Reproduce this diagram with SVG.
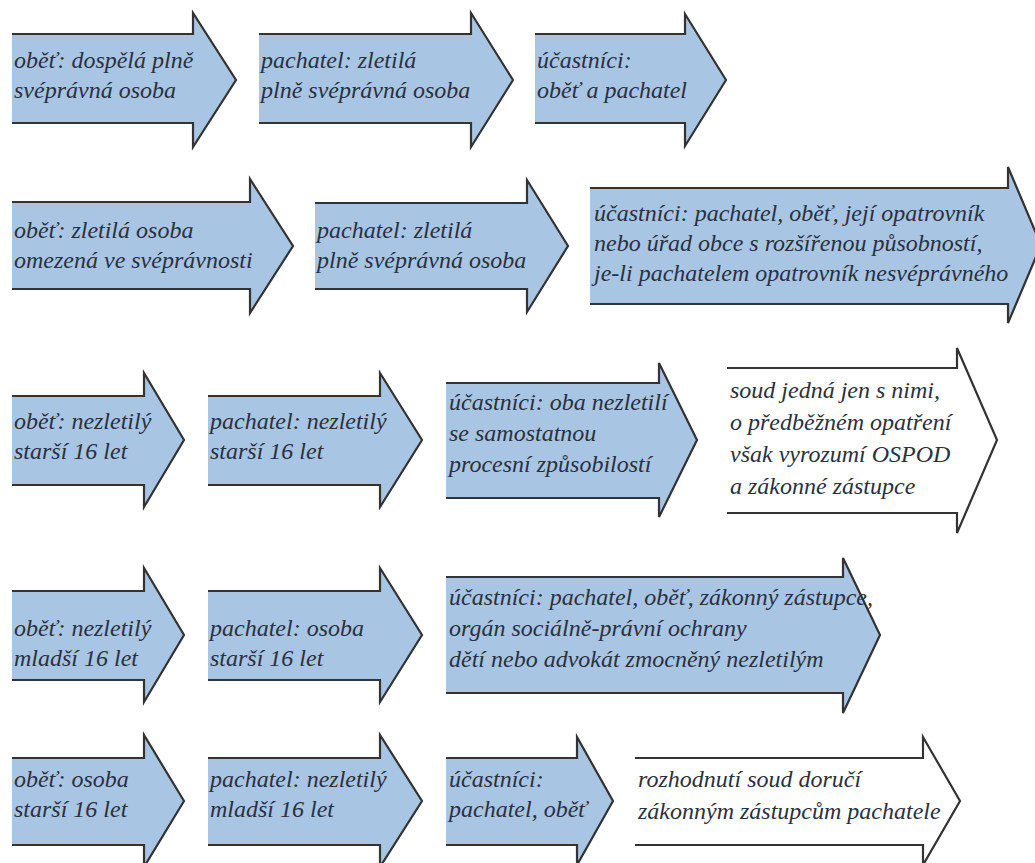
<svg xmlns="http://www.w3.org/2000/svg" width="1035" height="863" viewBox="0 0 1035 863">
<style>
.blue{fill:#a8c5e3;}
.white{fill:#ffffff;}
.edge{fill:none;stroke:#333333;stroke-width:2.2;stroke-linejoin:miter;}
text{font-family:"Liberation Serif","Times New Roman",serif;font-style:italic;font-size:24px;fill:#2a3040;}
</style>
<rect width="1035" height="863" fill="#ffffff"/>
<g id="r1a1"><polygon class="blue" points="12,34 193,34 193,13 236,80 193,147 193,123 12,123"/><polyline class="edge" points="12,34 193,34 193,13 236,80 193,147 193,123 12,123"/><text x="14" y="68">oběť: dospělá plně</text><text x="14" y="98">svéprávná osoba</text></g>
<g id="r1a2"><polygon class="blue" points="259,34 471,34 471,13 513,80 471,147 471,123 259,123"/><polyline class="edge" points="259,34 471,34 471,13 513,80 471,147 471,123 259,123"/><text x="261" y="68">pachatel: zletilá</text><text x="261" y="98">plně svéprávná osoba</text></g>
<g id="r1a3"><polygon class="blue" points="535,34 685,34 685,14 726,80 685,146 685,123 535,123"/><polyline class="edge" points="535,34 685,34 685,14 726,80 685,146 685,123 535,123"/><text x="537" y="68">účastníci:</text><text x="537" y="98">oběť a pachatel</text></g>
<g id="r2a1"><polygon class="blue" points="12,202 250,202 250,179 293,246 250,313 250,289 12,289"/><polyline class="edge" points="12,202 250,202 250,179 293,246 250,313 250,289 12,289"/><text x="14" y="238">oběť: zletilá osoba</text><text x="14" y="268">omezená ve svéprávnosti</text></g>
<g id="r2a2"><polygon class="blue" points="315,203 527,203 527,180 568,246 527,312 527,289 315,289"/><polyline class="edge" points="315,203 527,203 527,180 568,246 527,312 527,289 315,289"/><text x="317" y="238">pachatel: zletilá</text><text x="317" y="268">plně svéprávná osoba</text></g>
<g id="r2a3"><polygon class="blue" points="590,188 1008,188 1008,167 1041,245 1008,323 1008,304 590,304"/><polyline class="edge" points="590,188 1008,188 1008,167 1041,245 1008,323 1008,304 590,304"/><text x="594" y="221">účastníci: pachatel, oběť, její opatrovník</text><text x="594" y="251">nebo úřad obce s rozšířenou působností,</text><text x="594" y="281">je-li pachatelem opatrovník nesvéprávného</text></g>
<g id="r3a1"><polygon class="blue" points="12,396 144,396 144,373 184,440 144,507 144,485 12,485"/><polyline class="edge" points="12,396 144,396 144,373 184,440 144,507 144,485 12,485"/><text x="14" y="429">oběť: nezletilý</text><text x="14" y="459">starší 16 let</text></g>
<g id="r3a2"><polygon class="blue" points="208,396 380,396 380,373 422,440 380,507 380,485 208,485"/><polyline class="edge" points="208,396 380,396 380,373 422,440 380,507 380,485 208,485"/><text x="210" y="429">pachatel: nezletilý</text><text x="210" y="459">starší 16 let</text></g>
<g id="r3a3"><polygon class="blue" points="446,383 659,383 659,363 697,440 659,517 659,498 446,498"/><polyline class="edge" points="446,383 659,383 659,363 697,440 659,517 659,498 446,498"/><text x="449" y="410">účastníci: oba nezletilí</text><text x="449" y="441">se samostatnou</text><text x="449" y="472">procesní způsobilostí</text></g>
<g id="r3a4"><polygon class="white" points="727,368 957,368 957,348 997,440 957,533 957,513 727,513"/><polyline class="edge" points="727,368 957,368 957,348 997,440 957,533 957,513 727,513"/><text x="730" y="398">soud jedná jen s nimi,</text><text x="730" y="430">o předběžném opatření</text><text x="730" y="462">však vyrozumí OSPOD</text><text x="730" y="494">a zákonné zástupce</text></g>
<g id="r4a1"><polygon class="blue" points="12,591 144,591 144,568 184,635 144,702 144,680 12,680"/><polyline class="edge" points="12,591 144,591 144,568 184,635 144,702 144,680 12,680"/><text x="14" y="636">oběť: nezletilý</text><text x="14" y="666">mladší 16 let</text></g>
<g id="r4a2"><polygon class="blue" points="208,591 380,591 380,568 422,635 380,702 380,680 208,680"/><polyline class="edge" points="208,591 380,591 380,568 422,635 380,702 380,680 208,680"/><text x="210" y="636">pachatel: osoba</text><text x="210" y="666">starší 16 let</text></g>
<g id="r4a3"><polygon class="blue" points="446,577 843,577 843,558 880,635 843,713 843,693 446,693"/><polyline class="edge" points="446,577 843,577 843,558 880,635 843,713 843,693 446,693"/><text x="449" y="605">účastníci: pachatel, oběť, zákonný zástupce,</text><text x="449" y="636">orgán sociálně-právní ochrany</text><text x="449" y="667">dětí nebo advokát zmocněný nezletilým</text></g>
<g id="r5a1"><polygon class="blue" points="12,758 144,758 144,735 184,801 144,867 144,845 12,845"/><polyline class="edge" points="12,758 144,758 144,735 184,801 144,867 144,845 12,845"/><text x="14" y="787">oběť: osoba</text><text x="14" y="817">starší 16 let</text></g>
<g id="r5a2"><polygon class="blue" points="208,758 380,758 380,735 422,801 380,867 380,845 208,845"/><polyline class="edge" points="208,758 380,758 380,735 422,801 380,867 380,845 208,845"/><text x="210" y="787">pachatel: nezletilý</text><text x="210" y="817">mladší 16 let</text></g>
<g id="r5a3"><polygon class="blue" points="446,758 577,758 577,737 613,801 577,865 577,845 446,845"/><polyline class="edge" points="446,758 577,758 577,737 613,801 577,865 577,845 446,845"/><text x="449" y="787">účastníci:</text><text x="449" y="817">pachatel, oběť</text></g>
<g id="r5a4"><polygon class="white" points="635,758 923,758 923,737 960,801 923,865 923,845 635,845"/><polyline class="edge" points="635,758 923,758 923,737 960,801 923,865 923,845 635,845"/><text x="638" y="787">rozhodnutí soud doručí</text><text x="638" y="819">zákonným zástupcům pachatele</text></g>
<g id="connectors"/>
</svg>
